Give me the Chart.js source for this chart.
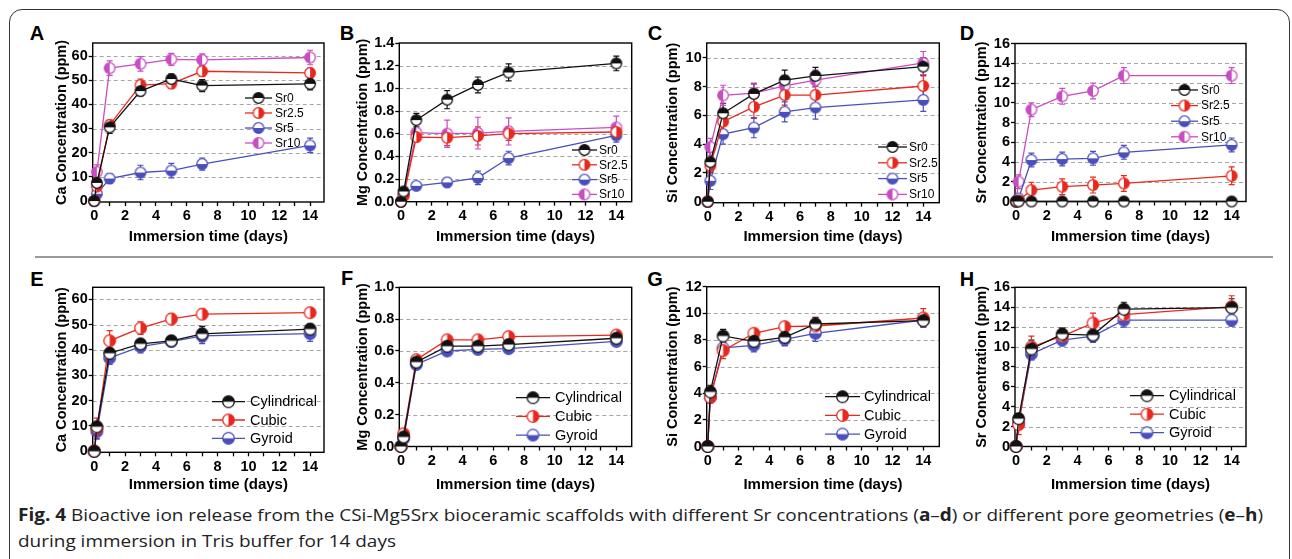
<!DOCTYPE html>
<html>
<head>
<meta charset="utf-8">
<script src="https://cdn.jsdelivr.net/npm/chart.js@4.4.1/dist/chart.umd.min.js"></script>
<style>
  html, body { margin: 0; padding: 0; background: #fff; }
  #page { position: relative; width: 1292px; height: 559px; overflow: hidden; font-family: "Liberation Sans", Arial, sans-serif; }
  #frame { position: absolute; left: 9px; top: 9px; width: 1281px; height: 620px; border: 1.5px solid #333; border-radius: 13px; box-sizing: border-box; }
  #sep { position: absolute; left: 35px; top: 256px; width: 1238px; height: 2px; background: #9a9a9a; }
  canvas { position: absolute; }
  .tag { position: absolute; font-weight: bold; font-size: 20px; line-height: 20px; transform: translate(-50%, -50%); color: #000; }
  .cap { position: absolute; left: 18px; white-space: nowrap; font-family: "Open Sans", sans-serif; font-size: 17px; line-height: 20px; color: #222; transform-origin: 0 50%; }
</style>
</head>
<body>
<div id="page">
  <div id="frame"></div>
  <div id="sep"></div>
  <div class="cap" id="cap1" style="top:505px"><b>Fig. 4</b> Bioactive ion release from the CSi-Mg5Srx bioceramic scaffolds with different Sr concentrations (<b>a</b>–<b>d</b>) or different pore geometries (<b>e</b>–<b>h</b>)</div>
  <div class="cap" id="cap2" style="top:531px">during immersion in Tris buffer for 14 days</div>
</div>
<script>
// ---------------------------------------------------------
// Data
// ---------------------------------------------------------
const days = [0, 0.17, 1, 3, 5, 7, 14];
const xTicks = [0, 1, 2, 3, 4, 5, 6, 7, 8, 9, 10, 11, 12, 13, 14];
const xLabelStep = 2;
const srGroups = ["Sr0", "Sr2.5", "Sr5", "Sr10"];
const poreGroups = ["Cylindrical", "Cubic", "Gyroid"];

const caTicks = [0, 10, 20, 30, 40, 50, 60];
const mgTicksTop = [0, 0.2, 0.4, 0.6, 0.8, 1.0, 1.2, 1.4];
const siTicksTop = [0, 2, 4, 6, 8, 10];
const srTicks = [0, 2, 4, 6, 8, 10, 12, 14, 16];
const mgTicksBottom = [0, 0.2, 0.4, 0.6, 0.8, 1.0];
const siTicksBottom = [0, 2, 4, 6, 8, 10, 12];

// A - Ca, by Sr content
const caBySr = [
	[0, 7.5, 30.5, 45.5, 50.5, 47.8, 48.5],
	[0, 6, 31.5, 48, 48.6, 53.7, 53],
	[0, 3, 9.3, 11.8, 12.6, 15.3, 23],
	[0, 12, 55, 56.8, 58.6, 58.4, 59.4],
];
const caBySrErr = [
	[0, 2, 2.5, 2, 2, 2.5, 2.5],
	[0, 2, 2, 2.5, 2, 2, 2],
	[0, 1.5, 2, 3, 3, 2.5, 3],
	[0, 3, 3, 3, 2.5, 2.5, 3],
];

// B - Mg, by Sr content
const mgBySr = [
	[0, 0.09, 0.72, 0.9, 1.03, 1.14, 1.22],
	[0, 0.05, 0.57, 0.565, 0.58, 0.6, 0.615],
	[0, 0.06, 0.14, 0.17, 0.21, 0.385, 0.585],
	[0, 0.07, 0.61, 0.6, 0.605, 0.62, 0.655],
];
const mgBySrErr = [
	[0, 0.03, 0.06, 0.08, 0.07, 0.075, 0.065],
	[0, 0.03, 0.04, 0.07, 0.08, 0.06, 0.04],
	[0, 0.02, 0.03, 0.04, 0.06, 0.06, 0.06],
	[0, 0.03, 0.03, 0.12, 0.14, 0.12, 0.1],
];

// C - Si, by Sr content
const siBySr = [
	[0, 2.75, 6.15, 7.5, 8.45, 8.75, 9.4],
	[0, 2.5, 5.57, 6.6, 7.42, 7.42, 8.05],
	[0, 1.45, 4.7, 5.15, 6.25, 6.55, 7.08],
	[0, 3.8, 7.4, 7.55, 8.05, 8.45, 9.65],
];
const siBySrErr = [
	[0, 0.7, 0.7, 0.7, 0.7, 0.6, 0.6],
	[0, 0.5, 0.8, 0.8, 0.7, 0.6, 0.7],
	[0, 0.6, 0.7, 0.7, 0.7, 0.8, 0.8],
	[0, 0.6, 0.7, 0.7, 0.7, 0.7, 0.8],
];

// D - Sr, by Sr content
const srBySr = [
	[0, 0, 0, 0, 0, 0, 0],
	[0, 0.1, 1.15, 1.5, 1.66, 1.83, 2.6],
	[0, 0.3, 4.2, 4.3, 4.37, 4.98, 5.73],
	[0, 2.0, 9.3, 10.65, 11.2, 12.75, 12.75],
];
const srBySrErr = [
	[0, 0, 0, 0, 0, 0, 0],
	[0, 0.3, 0.8, 0.8, 0.8, 0.8, 0.9],
	[0, 0.3, 0.7, 0.7, 0.7, 0.7, 0.7],
	[0, 0.7, 0.7, 0.8, 0.8, 0.8, 0.8],
];

// E - Ca, by pore geometry
const caByPore = [
	[0, 9.7, 38.7, 42.4, 43.6, 46.3, 48.2],
	[0, 9.1, 43.6, 48.6, 52.2, 54.1, 54.7],
	[0, 7.8, 36.8, 41.3, 43.3, 45.5, 46.4],
];
const caByPoreErr = [
	[0, 1.5, 2, 1.5, 1.5, 3, 2],
	[0, 4, 4, 2.5, 2, 2, 1],
	[0, 3, 2.5, 2.5, 2, 3, 3],
];

// F - Mg, by pore geometry
const mgByPore = [
	[0, 0.06, 0.53, 0.63, 0.63, 0.64, 0.68],
	[0, 0.08, 0.545, 0.67, 0.67, 0.69, 0.7],
	[0, 0.05, 0.515, 0.6, 0.61, 0.615, 0.66],
];
const mgByPoreErr = [
	[0, 0.01, 0.02, 0.01, 0.02, 0.01, 0.02],
	[0, 0.01, 0.02, 0.02, 0.02, 0.02, 0.02],
	[0, 0.01, 0.02, 0.02, 0.03, 0.02, 0.02],
];

// G - Si, by pore geometry
const siByPore = [
	[0, 4.1, 8.3, 7.9, 8.2, 9.2, 9.45],
	[0, 3.7, 7.2, 8.5, 9.0, 9.05, 9.65],
	[0, 3.7, 7.4, 7.6, 8.05, 8.5, 9.5],
];
const siByPoreErr = [
	[0, 0.5, 0.5, 0.5, 0.6, 0.5, 0.4],
	[0, 0.4, 0.6, 0.2, 0.3, 0.6, 0.7],
	[0, 0.4, 0.5, 0.5, 0.5, 0.6, 0.5],
];

// H - Sr, by pore geometry
const srByPore = [
	[0, 2.8, 9.8, 11.3, 11.2, 13.8, 13.95],
	[0, 2.2, 10.0, 11.1, 12.4, 13.25, 14.05],
	[0, 2.4, 9.3, 10.7, 11.1, 12.7, 12.7],
];
const srByPoreErr = [
	[0, 0.5, 0.9, 0.6, 0.7, 0.7, 0.9],
	[0, 1.0, 1.1, 0.7, 1.0, 0.8, 1.1],
	[0, 0.5, 0.6, 0.6, 0.6, 0.7, 0.6],
];

// ---------------------------------------------------------
// Styles
// ---------------------------------------------------------
const seriesColors = ["#111111", "#e8281e", "#4a4fbb", "#c84cc2"];
const seriesHalves = ["top", "right", "bottom", "left"];
const FONT = "'Liberation Sans', Arial, sans-serif";

// panel layout: canvas box and plot box in page pixels
const panels = [
	{ tag: "A", tagAt: [37, 33], canvas: [53, 28, 334, 246], plot: [92.7, 43, 324, 202], x: [-0.1, 14.9], y: [-0.4, 65.4], yTicks: caTicks, dec: 0, title: "Ca Concentration (ppm)", groups: srGroups, values: caBySr, errors: caBySrErr, legend: { x0: 245, x1: 272, tx: 275, y0: 98, dy: 15, size: 12 } },
	{ tag: "B", tagAt: [347, 33], canvas: [354, 28, 642, 246], plot: [399.3, 43, 631.7, 201.7], x: [-0.11, 15.0], y: [0, 1.4], yTicks: mgTicksTop, dec: 1, title: "Mg Concentration (ppm)", groups: srGroups, values: mgBySr, errors: mgBySrErr, legend: { x0: 572, x1: 597, tx: 599, y0: 150, dy: 14.8, size: 12 } },
	{ tag: "C", tagAt: [655, 33], canvas: [664, 28, 949, 246], plot: [706.7, 43, 939.3, 202.7], x: [-0.065, 15.04], y: [-0.07, 11.04], yTicks: siTicksTop, dec: 0, title: "Si Concentration (ppm)", groups: srGroups, values: siBySr, errors: siBySrErr, legend: { x0: 878, x1: 907, tx: 909, y0: 147, dy: 15.8, size: 12 } },
	{ tag: "D", tagAt: [967, 33], canvas: [973, 28, 1256, 246], plot: [1015, 43.5, 1246, 201.5], x: [-0.065, 14.93], y: [0, 16], yTicks: srTicks, dec: 0, title: "Sr Concentration (ppm)", groups: srGroups, values: srBySr, errors: srBySrErr, legend: { x0: 1171, x1: 1198, tx: 1201, y0: 90, dy: 15.6, size: 12 } },
	{ tag: "E", tagAt: [37, 279], canvas: [53, 272, 334, 494], plot: [92.7, 287.3, 324, 452.3], x: [-0.1, 14.9], y: [-0.4, 64.7], yTicks: caTicks, dec: 0, title: "Ca Concentration (ppm)", groups: poreGroups, values: caByPore, errors: caByPoreErr, legend: { x0: 212, x1: 245, tx: 250, y0: 401.7, dy: 18.3, size: 14.5 } },
	{ tag: "F", tagAt: [347, 278], canvas: [354, 272, 642, 494], plot: [399.3, 287.3, 631.7, 446.5], x: [-0.11, 15.0], y: [0, 1.0], yTicks: mgTicksBottom, dec: 1, title: "Mg Concentration (ppm)", groups: poreGroups, values: mgByPore, errors: mgByPoreErr, legend: { x0: 516, x1: 550, tx: 555, y0: 397.7, dy: 18.7, size: 14.5 } },
	{ tag: "G", tagAt: [655, 279], canvas: [664, 272, 949, 494], plot: [706.7, 286.7, 939.3, 446.5], x: [-0.065, 15.04], y: [0, 12], yTicks: siTicksBottom, dec: 0, title: "Si Concentration (ppm)", groups: poreGroups, values: siByPore, errors: siByPoreErr, legend: { x0: 825, x1: 860, tx: 864, y0: 396.7, dy: 18.7, size: 14.5 } },
	{ tag: "H", tagAt: [967, 279], canvas: [973, 272, 1256, 494], plot: [1015, 287.3, 1246, 446.5], x: [-0.065, 14.93], y: [0, 16], yTicks: srTicks, dec: 0, title: "Sr Concentration (ppm)", groups: poreGroups, values: srByPore, errors: srByPoreErr, legend: { x0: 1130, x1: 1164, tx: 1169, y0: 395.7, dy: 18.5, size: 14.5 } },
];

// half-filled circle marker
const marker = (color, half, r) => {
	const c = document.createElement("canvas");
	const s = Math.ceil(2 * r + 3);
	c.width = c.height = s;
	const g = c.getContext("2d");
	const m = s / 2;
	const start = { top: Math.PI, right: -Math.PI / 2, bottom: 0, left: Math.PI / 2 }[half];
	g.beginPath();
	g.arc(m, m, r, 0, 2 * Math.PI);
	g.fillStyle = "#fff";
	g.fill();
	g.beginPath();
	g.moveTo(m, m);
	g.arc(m, m, r, start, start + Math.PI);
	g.closePath();
	g.fillStyle = color;
	g.fill();
	g.beginPath();
	g.arc(m, m, r, 0, 2 * Math.PI);
	g.lineWidth = 1.3;
	g.strokeStyle = color;
	g.stroke();
	return c;
};

// ---------------------------------------------------------
// Plugins
// ---------------------------------------------------------
const framePlugin = {
	id: "frame",
	beforeDatasetsDraw(chart) {
		const { ctx, chartArea: a, scales } = chart;
		const y = scales.y;
		ctx.save();
		ctx.strokeStyle = "#a5a5a5";
		ctx.lineWidth = 1;
		ctx.setLineDash([4, 3]);
		y.ticks.forEach((t) => {
			const py = Math.round(y.getPixelForValue(t.value)) + 0.5;
			if (py > a.bottom - 3 || py < a.top + 3) return;
			ctx.beginPath();
			ctx.moveTo(a.left, py);
			ctx.lineTo(a.right, py);
			ctx.stroke();
		});
		ctx.setLineDash([]);
		ctx.strokeStyle = "#000";
		ctx.lineWidth = 1.4;
		ctx.strokeRect(a.left, a.top, a.right - a.left, a.bottom - a.top);
		ctx.restore();
	},
};

const errorBarPlugin = {
	id: "errorBars",
	beforeDatasetsDraw(chart) {
		const { ctx, scales } = chart;
		ctx.save();
		ctx.lineWidth = 1.2;
		chart.data.datasets.forEach((ds) => {
			ctx.strokeStyle = ds.borderColor;
			ds.data.forEach((pt, j) => {
				const e = ds.errors[j];
				if (!e) return;
				const px = scales.x.getPixelForValue(pt.x);
				const y1 = scales.y.getPixelForValue(pt.y + e);
				const y2 = scales.y.getPixelForValue(pt.y - e);
				ctx.beginPath();
				ctx.moveTo(px, y1);
				ctx.lineTo(px, y2);
				ctx.moveTo(px - 3, y1);
				ctx.lineTo(px + 3, y1);
				ctx.moveTo(px - 3, y2);
				ctx.lineTo(px + 3, y2);
				ctx.stroke();
			});
		});
		ctx.restore();
	},
};

const legendPlugin = {
	id: "halfLegend",
	afterDraw(chart, args, opts) {
		const { ctx } = chart;
		ctx.save();
		ctx.font = `${opts.size}px ${FONT}`;
		ctx.textBaseline = "middle";
		ctx.fillStyle = "#000";
		chart.data.datasets.forEach((ds, i) => {
			const y = opts.y0 + i * opts.dy - opts.oy;
			const x0 = opts.x0 - opts.ox;
			const x1 = opts.x1 - opts.ox;
			ctx.strokeStyle = ds.borderColor;
			ctx.lineWidth = 1.3;
			ctx.beginPath();
			ctx.moveTo(x0, y);
			ctx.lineTo(x1, y);
			ctx.stroke();
			const img = ds.pointStyle;
			ctx.drawImage(img, (x0 + x1) / 2 - img.width / 2, y - img.height / 2);
			ctx.fillText(ds.label, opts.tx - opts.ox, y + 0.5);
		});
		ctx.restore();
	},
};

// ---------------------------------------------------------
// Chart init
// ---------------------------------------------------------
const page = document.getElementById("page");

const buildPanel = (p) => {
	const [cl, ct, cr, cb] = p.canvas;
	const [pl, pt, pr, pb] = p.plot;
	const big = p.legend.size > 13;

	const tag = document.createElement("div");
	tag.className = "tag";
	tag.textContent = p.tag;
	tag.style.left = p.tagAt[0] + "px";
	tag.style.top = p.tagAt[1] + "px";
	page.appendChild(tag);

	const cv = document.createElement("canvas");
	cv.width = cr - cl;
	cv.height = cb - ct;
	cv.style.left = cl + "px";
	cv.style.top = ct + "px";
	page.appendChild(cv);

	const datasets = p.groups.map((g, i) => ({
		label: g,
		data: days.map((d, j) => ({ x: d, y: p.values[i][j] })),
		errors: p.errors[i],
		borderColor: seriesColors[i],
		backgroundColor: seriesColors[i],
		borderWidth: 1.3,
		pointStyle: marker(seriesColors[i], seriesHalves[i], big ? 5.8 : 5.3),
		pointRadius: 5,
		tension: 0,
		clip: false,
	}));

	const tickFont = { family: FONT, size: 14.5, weight: "bold" };
	const titleFont = { family: FONT, size: 15, weight: "bold" };

	new Chart(cv, {
		type: "line",
		data: { datasets },
		options: {
			responsive: false,
			animation: false,
			events: [],
			layout: { padding: { top: pt - ct, right: cr - pr, left: 0, bottom: 0 } },
			plugins: {
				legend: { display: false },
				tooltip: { enabled: false },
				halfLegend: { ...p.legend, ox: cl, oy: ct },
			},
			scales: {
				x: {
					type: "linear",
					min: p.x[0],
					max: p.x[1],
					afterBuildTicks: (s) => {
						s.ticks = xTicks.map((v) => ({ value: v }));
					},
					afterFit: (s) => {
						s.height = cb - pb;
					},
					border: { display: false },
					grid: { drawOnChartArea: false, tickLength: 4, tickColor: "#000", tickWidth: 1.3 },
					ticks: {
						color: "#000",
						font: tickFont,
						padding: 1.5,
						maxRotation: 0,
						autoSkip: false,
						callback: (v) => (v % xLabelStep === 0 ? String(v) : ""),
					},
					title: { display: true, text: "Immersion time (days)", color: "#000", font: titleFont, padding: 0 },
				},
				y: {
					type: "linear",
					min: p.y[0],
					max: p.y[1],
					afterBuildTicks: (s) => {
						s.ticks = p.yTicks.map((v) => ({ value: v }));
					},
					afterFit: (s) => {
						s.width = pl - cl;
					},
					border: { display: false },
					grid: { drawOnChartArea: false, tickLength: 4, tickColor: "#000", tickWidth: 1.3 },
					ticks: {
						color: "#000",
						font: tickFont,
						padding: 1,
						autoSkip: false,
						callback: (v) => Number(v).toFixed(p.dec),
					},
					title: { display: true, text: p.title, color: "#000", font: { ...titleFont, size: 14.5 }, padding: 0 },
				},
			},
		},
		plugins: [framePlugin, errorBarPlugin, legendPlugin],
	});
};

panels.forEach(buildPanel);

// fit caption to the reference width
const cap1 = document.getElementById("cap1");
const cap2 = document.getElementById("cap2");
const k = 1245 / cap1.getBoundingClientRect().width;
cap1.style.transform = `scaleX(${k})`;
cap2.style.transform = `scaleX(${k})`;
</script>
</body>
</html>
